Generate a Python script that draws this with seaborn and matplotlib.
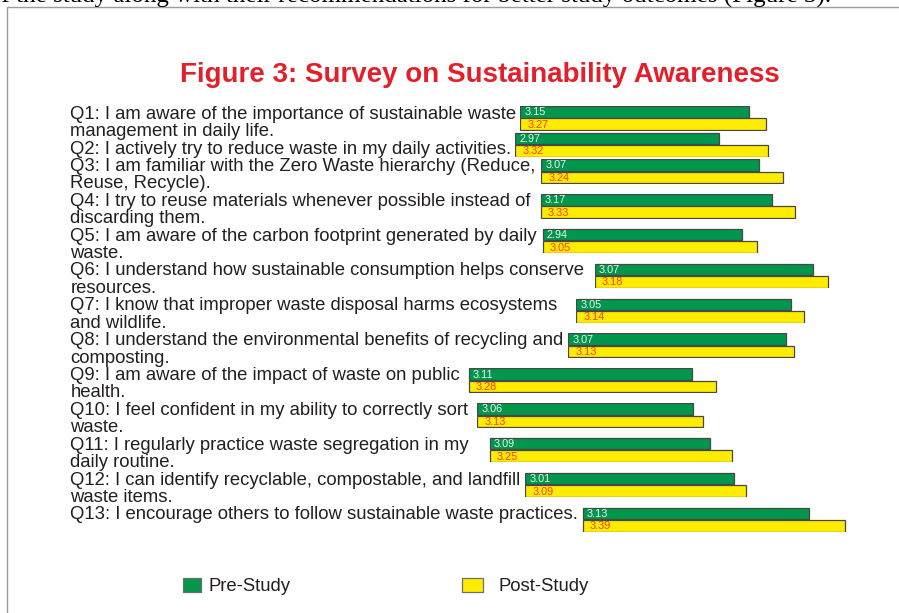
import matplotlib
matplotlib.use("Agg")
import matplotlib.pyplot as plt
from matplotlib.patches import Rectangle
import pandas as pd
import seaborn as sns

# ---- data -------------------------------------------------------------
questions = [
    "Q1: I am aware of the importance of sustainable waste\nmanagement in daily life.",
    "Q2: I actively try to reduce waste in my daily activities.",
    "Q3: I am familiar with the Zero Waste hierarchy (Reduce,\nReuse, Recycle).",
    "Q4: I try to reuse materials whenever possible instead of\ndiscarding them.",
    "Q5: I am aware of the carbon footprint generated by daily\nwaste.",
    "Q6: I understand how sustainable consumption helps conserve\nresources.",
    "Q7: I know that improper waste disposal harms ecosystems\nand wildlife.",
    "Q8: I understand the environmental benefits of recycling and\ncomposting.",
    "Q9: I am aware of the impact of waste on public\nhealth.",
    "Q10: I feel confident in my ability to correctly sort\nwaste.",
    "Q11: I regularly practice waste segregation in my\ndaily routine.",
    "Q12: I can identify recyclable, compostable, and landfill\nwaste items.",
    "Q13: I encourage others to follow sustainable waste practices.",
]
pre_study = [3.15, 2.97, 3.07, 3.17, 2.94, 3.07, 3.05, 3.07, 3.11, 3.06, 3.09, 3.01, 3.13]
post_study = [3.27, 3.32, 3.24, 3.33, 3.05, 3.18, 3.14, 3.13, 3.28, 3.13, 3.25, 3.09, 3.39]
series_names = ["Pre-Study", "Post-Study"]
title = "Figure 3: Survey on Sustainability Awareness"
caption_tail = "of the study along with their recommendations for better study outcomes (Figure 3)."

# ---- style ------------------------------------------------------------
GREEN = "#00964b"
YELLOW = "#ffec00"
EDGE = "#474747"
TEXT = "#231f20"
TITLE_RED = "#e3202a"
POST_NUM = "#ff3a00"

W, H = 899, 613
sns.set_theme(style="white")
plt.rcParams["font.family"] = ["Liberation Sans", "DejaVu Sans"]

# layout (pixels)
LABEL_X = 70.5
LABEL_SIZE = 13.35
LINE0 = 112.7
LINE_STEP = 17.42
BASELINE_OFF = 6.0
LABEL_PAD = [3, 3, 5, 9, 5, 10, 18, 4, 8, 8, 20, 4, 4]
BAR_H = 12.5
PAIR_GAP = 1.6
AX_W = 330.0
VALUE_BASE = 1.525      # value at the bars' starting edge
PX_PER_UNIT = 141.0     # pixels per unit of score

fig = plt.figure(figsize=(W / 100, H / 100), dpi=100)
fig.patch.set_facecolor("white")
bg = fig.add_axes([0, 0, 1, 1])
bg.set_xlim(0, W)
bg.set_ylim(H, 0)
bg.axis("off")

# frame around the figure
bg.plot([7.3, 7.3, W], [H, 7, 7], color="#9c9c9c", lw=1.0, solid_capstyle="butt")

# tail of the running text above the figure
bg.text(831, 3.0, caption_tail, family=["Liberation Serif"], fontsize=18,
        ha="right", va="baseline", color="black")

# title
bg.text(479.5, 82, title, fontsize=20, fontweight="bold", color=TITLE_RED,
        ha="center", va="baseline")

# question labels
renderer = fig.canvas.get_renderer()
line_idx = 0
bar_left = []
first_line_y = []
for q, pad in zip(questions, LABEL_PAD):
    lines = q.split("\n")
    y0 = LINE0 + line_idx * LINE_STEP
    first = None
    for j, ln in enumerate(lines):
        t = bg.text(LABEL_X, y0 + j * LINE_STEP + BASELINE_OFF, ln,
                    fontsize=LABEL_SIZE, color=TEXT, ha="left", va="baseline")
        if first is None:
            first = t
    ext = first.get_window_extent(renderer)
    bar_left.append(ext.x1 + pad)
    first_line_y.append(y0)
    line_idx += len(lines)

# bar pair tops: Pre bar centred on the first label line, nudged up when
# it would run into the next question's pair
pair_top = [y - BAR_H / 2 for y in first_line_y]
for i in range(len(pair_top) - 2, -1, -1):
    limit = pair_top[i + 1] - PAIR_GAP - 2 * BAR_H
    if pair_top[i] > limit:
        pair_top[i] = limit

# bars: one small axes per question sharing the same value scale
for i, q in enumerate(questions):
    df = pd.DataFrame({
        "series": series_names,
        "score": [pre_study[i], post_study[i]],
    })
    df["length"] = df["score"] - VALUE_BASE
    top = pair_top[i]
    ax = fig.add_axes([bar_left[i] / W, 1 - (top + 2 * BAR_H) / H,
                       AX_W / W, 2 * BAR_H / H])
    sns.barplot(data=df, x="length", y="series", hue="series",
                order=series_names, hue_order=series_names,
                palette=[GREEN, YELLOW], saturation=1, width=0.93,
                edgecolor=EDGE, linewidth=0.9, legend=False, ax=ax)
    ax.set_xlim(-0.004, AX_W / PX_PER_UNIT)
    ax.set_ylim(1.5, -0.5)
    ax.axis("off")
    for k, (val, col, dx) in enumerate(zip(df["score"], ["#f2f2f2", POST_NUM], [4, 7])):
        ax.annotate(f"{val:.2f}", xy=(0, k), xytext=(dx, -0.5),
                    textcoords="offset pixels", fontsize=7.8, color=col,
                    ha="left", va="center")

# legend
for name, col, (sx, sw, tx) in zip(series_names, [GREEN, YELLOW],
                                    [(182.5, 18.5, 208), (462, 21, 498)]):
    bg.add_patch(Rectangle((sx, 578), sw, 14, facecolor=col,
                           edgecolor="#6f6f6f", lw=0.9))
    bg.text(tx, 585 + BASELINE_OFF, name, fontsize=LABEL_SIZE, color=TEXT,
            ha="left", va="baseline")

fig.savefig("out.png", dpi=100, facecolor="white")
